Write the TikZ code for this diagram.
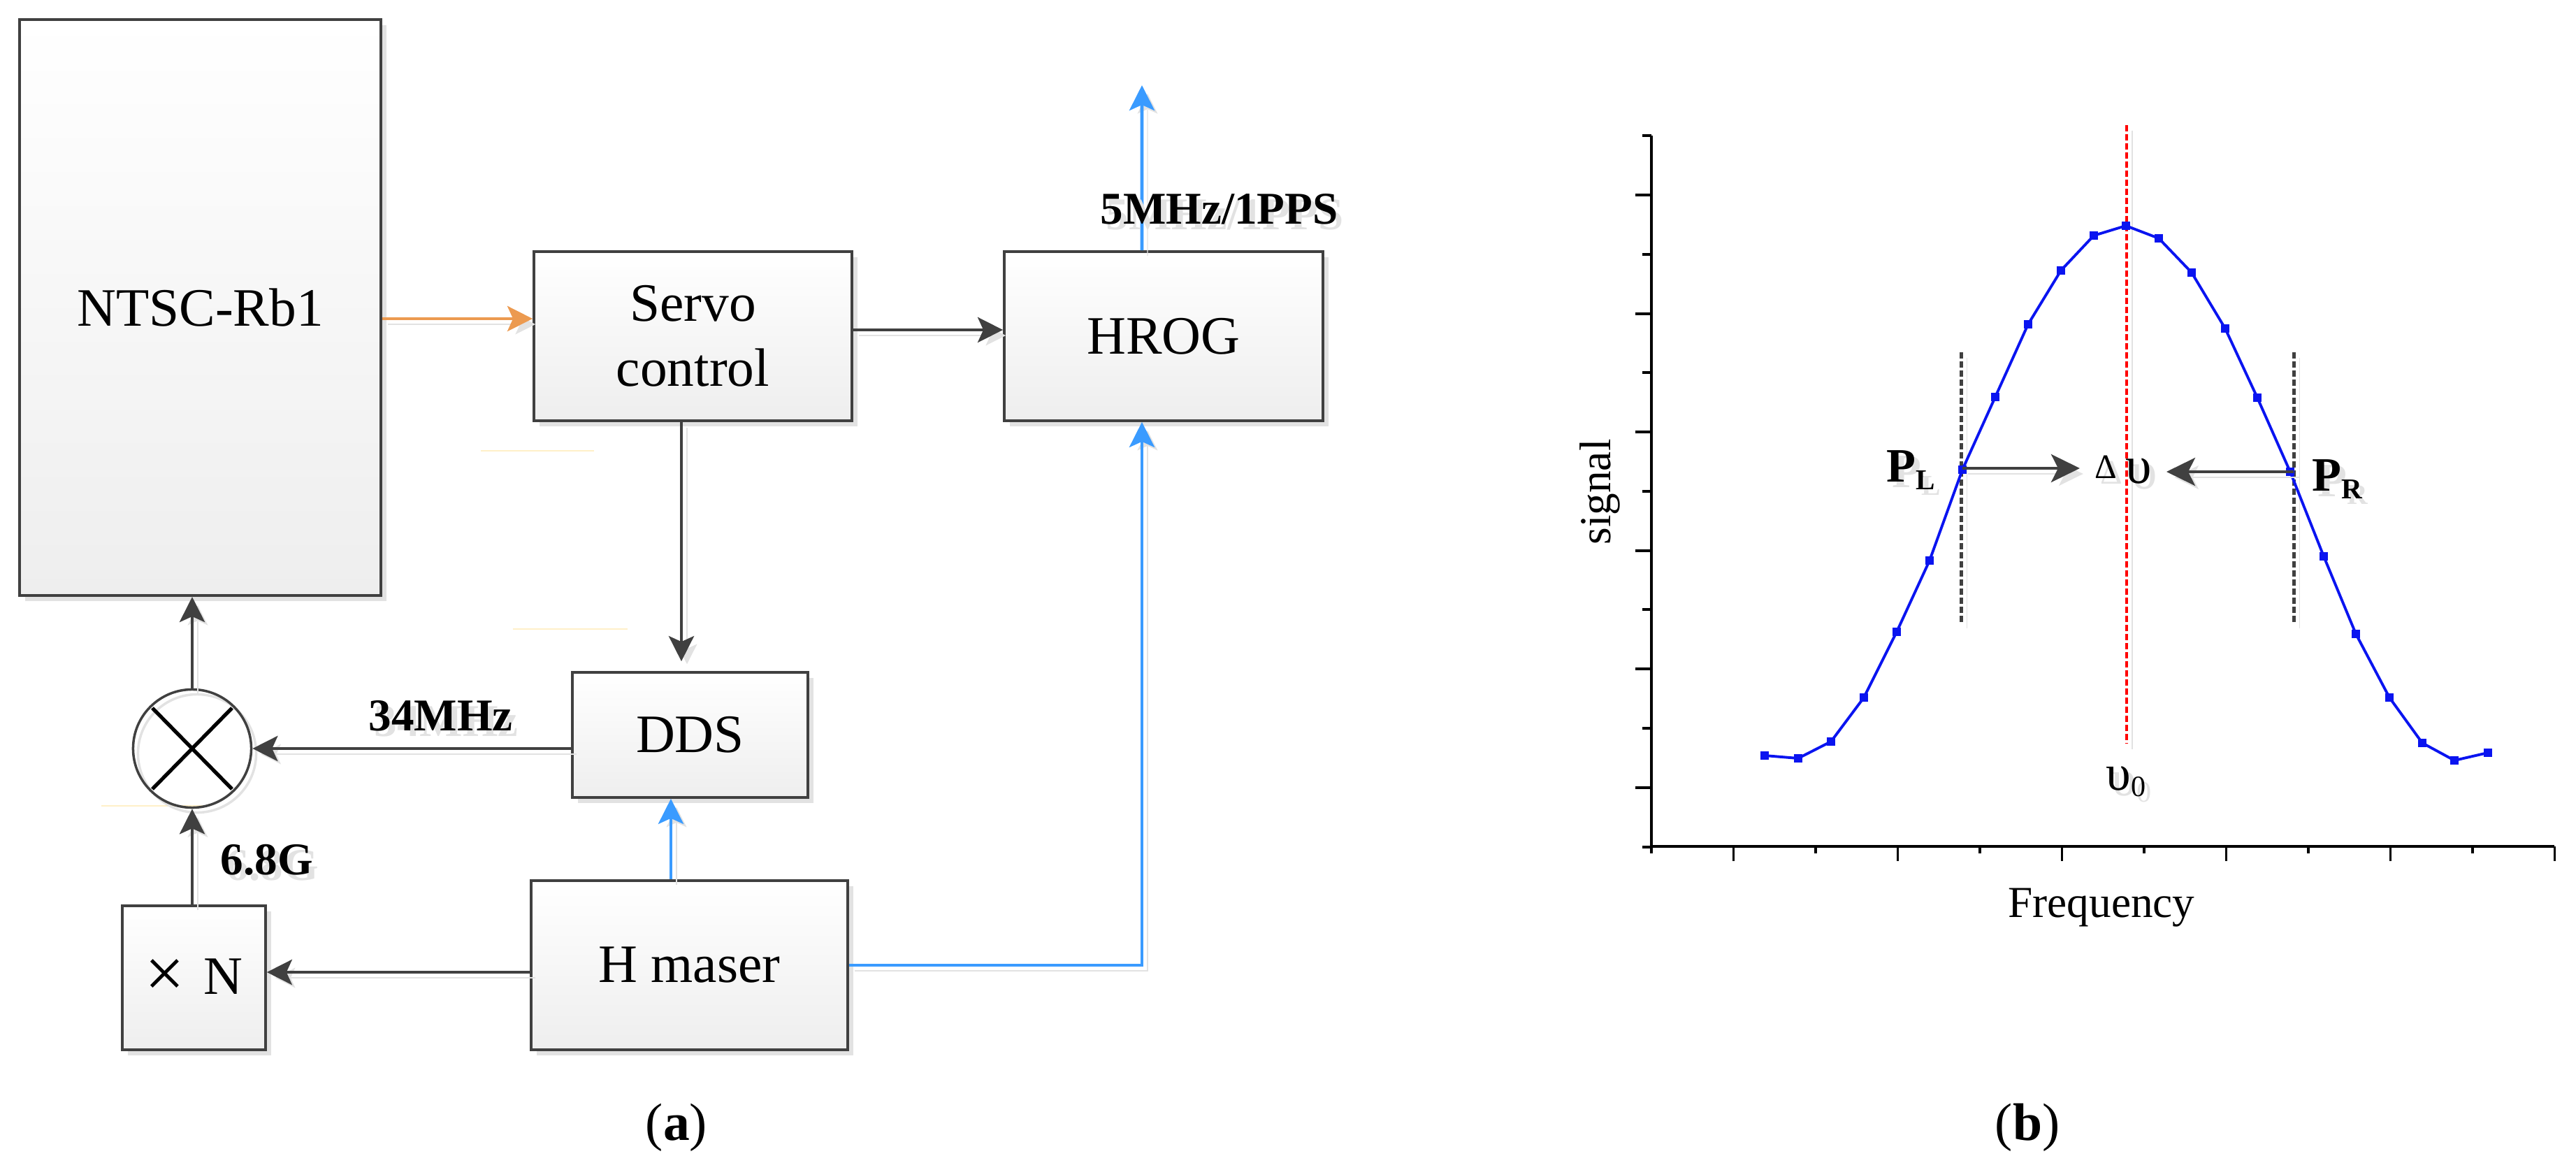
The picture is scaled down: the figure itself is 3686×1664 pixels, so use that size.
\documentclass[tikz,border=0pt]{standalone}
\usepackage{fontspec}
\setmainfont{Liberation Serif}
\usetikzlibrary{arrows.meta,shadows,calc,plotmarks}
\definecolor{dg}{HTML}{404040}
\definecolor{org}{HTML}{EC9A50}
\definecolor{blu}{HTML}{3A9BFF}
\definecolor{cblue}{HTML}{0A14F0}
\definecolor{shd}{HTML}{E2E2E2}
\definecolor{ylw}{HTML}{FFF0C8}
\definecolor{boxbot}{HTML}{EEEEEE}
\newcommand\shlabel[5]{%
  \node[anchor=#3, inner sep=0pt, text=shd, font=#4] (#1s) at ($#2+(8,8)$) {#5};
  \node[anchor=#3, inner sep=0pt, font=#4] (#1) at #2 {#5};}
\begin{document}
\begin{tikzpicture}[x=0.01cm, y=-0.01cm,
  blk/.style={draw=dg, line width=1pt, top color=white, bottom color=boxbot,
    drop shadow={shadow xshift=0.08cm, shadow yshift=-0.08cm, fill=shd, opacity=1},
    font=\fontsize{22}{26.5}\selectfont, align=center, inner sep=0pt},
  tip/.style={-{Stealth[length=0.36cm,width=0.36cm,inset=0.08cm]}},
  lsh/.style={preaction={draw=shd, transform canvas={xshift=0.08cm,yshift=-0.08cm}}},
  garr/.style={draw=dg, line width=1.4pt, tip, lsh},
  barr/.style={draw=blu, line width=1.4pt, tip, lsh},
  oarr/.style={draw=org, line width=1.4pt, tip, lsh},
  dsh/.style={line width=1.3pt, dash pattern=on 0.09cm off 0.04cm, lsh},
  ctip/.style={-{Stealth[length=0.41cm,width=0.40cm,inset=0.1cm]}},
]
\useasboundingbox (0,0) rectangle (3686,1664);
% faint lines
\draw[ylw, line width=0.6pt] (688,645) -- (850,645);
\draw[ylw, line width=0.6pt] (734,900) -- (898,900);
\draw[ylw, line width=0.6pt] (145,1153) -- (290,1153);
% boxes
\node[blk, minimum width=5.17cm, minimum height=8.24cm] (ntsc) at (286.5,440) {NTSC-Rb1};
\node[blk, minimum width=4.55cm, minimum height=2.42cm] (servo) at (991.5,481) {Servo\\control};
\node[blk, minimum width=4.56cm, minimum height=2.42cm] (hrog) at (1665,481) {HROG};
\node[blk, minimum width=3.37cm, minimum height=1.79cm] (dds) at (987.5,1051.5) {DDS};
\node[blk, minimum width=4.53cm, minimum height=2.42cm] (hm) at (986.5,1381) {H maser};
\node[blk, minimum width=2.05cm, minimum height=2.06cm] (xn) at (277.5,1399) {\raisebox{-1pt}{\scalebox{1.3}{×}}\hspace{0.28cm}N};
\node[circle, draw=dg, line width=1pt, minimum size=1.69cm, inner sep=0pt,
  preaction={draw=shd, line width=1pt, transform canvas={xshift=0.07cm,yshift=-0.07cm}}] (mix) at (275,1071) {};
\draw[black, line width=1.5pt] ($(mix.center)+(-57,-58)$) -- ($(mix.center)+(57,58)$);
\draw[black, line width=1.5pt] ($(mix.center)+(57,-58)$) -- ($(mix.center)+(-57,58)$);
% helper coordinates
\coordinate (s1) at ([yshift=0.25cm]servo.west);
\coordinate (h1) at ([yshift=0.09cm]hrog.west);
\coordinate (h2) at ([xshift=-0.31cm]hrog.north);
\coordinate (h3) at ([xshift=-0.31cm]hrog.south);
\coordinate (out) at (1634,122);
\coordinate (d1) at ([xshift=-0.125cm]dds.north);
\coordinate (d2) at ([xshift=-0.275cm]dds.south);
\coordinate (x1) at ([yshift=-0.1cm]hm.west);
% connectors
\draw[oarr] (ntsc.east |- s1) -- (s1);
\draw[garr] (servo.east |- h1) -- (h1);
\draw[barr] (h2) -- (out);
\draw[garr, shorten >=0.14cm] (servo.south -| d1) -- (d1);
\draw[garr] (mix.east -| dds.west) -- (mix.east);
\draw[barr] (hm.north -| d2) -- (d2);
\draw[garr] (x1) -- (x1 -| xn.east);
\draw[garr] (xn.north -| mix.south) -- (mix.south);
\draw[garr] (mix.north) -- (mix.north |- ntsc.south);
\draw[barr] (hm.east) -| (h3);
% labels
\shlabel{l5}{(1574,321)}{base west}{\fontsize{18.5}{20}\selectfont\bfseries}{5MHz/1PPS}
\shlabel{l34}{(527,1045)}{base west}{\fontsize{18.5}{20}\selectfont\bfseries}{34MHz}
\shlabel{l68}{(315,1251)}{base west}{\fontsize{18.5}{20}\selectfont\bfseries}{6.8G}
\node[font=\fontsize{21.5}{22}\selectfont] (capa) at (968,1613) {(\textbf{a})};
% ---------- chart (b)
\draw[dg, dsh] (2806.5,504) -- (2806.5,891);
\draw[dg, dsh] (3282.5,504) -- (3282.5,891);
\draw[red, dsh] (3043,179) -- (3043,1064);
\draw[black, line width=1.1pt] (2363,194) -- (2363,1211) -- (3655,1211);
\foreach \k in {0,...,6} \draw[black, line width=1.1pt] (2363,194+169.6*\k) -- ++(-13,0);
\foreach \k in {0,...,5} \draw[black, line width=1.1pt] (2363,279+169.6*\k) -- ++(-23,0);
\foreach \k in {0,...,5} \draw[black, line width=1.1pt] (2363+235*\k,1211) -- ++(0,10);
\foreach \k in {0,...,5} \draw[black, line width=1.1pt] (2480.5+235*\k,1211) -- ++(0,21);
\node[rotate=90, anchor=base, font=\fontsize{18}{18}\selectfont] (ylab) at (2304,704) {signal};
\node[anchor=base, font=\fontsize{18}{18}\selectfont] (xlab) at (3007,1312) {Frequency};
\draw[cblue, line width=1.1pt, mark=square*, mark size=0.045cm, mark options={fill=cblue, draw=cblue}]
  plot coordinates {(2525,1081) (2573,1085) (2620,1061) (2667,998) (2714,904) (2761,802)
  (2808,672) (2855,568) (2902,464) (2949,387) (2996,337) (3042,323) (3089,341) (3136,390)
  (3184,470) (3230,569) (3277,675) (3325,796) (3371,907) (3419,998) (3466,1063) (3512,1088) (3560,1077)};
\coordinate (pl) at (2808,670);
\coordinate (dv1) at (2976,670);
\coordinate (pr) at (3282,675);
\coordinate (dv2) at (3100,675);
\draw[dg, line width=1.2pt, ctip, lsh] (pl) -- (dv1);
\draw[dg, line width=1.2pt, ctip, lsh] (pr) -- (dv2);
\shlabel{plab}{(2699,690)}{base west}{\fontsize{19.5}{20}\selectfont\bfseries}{P\raisebox{-2.9pt}{\fontsize{11.7}{12}\selectfont L}}
\shlabel{prlab}{(3308,703)}{base west}{\fontsize{19.5}{20}\selectfont\bfseries}{P\raisebox{-2.9pt}{\fontsize{11.7}{12}\selectfont R}}
\shlabel{dlab}{(2997,691.6)}{base west}{\fontsize{21.5}{22}\selectfont}{\raisebox{2pt}{\fontsize{14}{14}\selectfont Δ}\hspace{0.12cm}υ}
\shlabel{ulab}{(3013,1130)}{base west}{\fontsize{20.5}{21}\selectfont}{υ\raisebox{-2.6pt}{\fontsize{12}{12}\selectfont 0}}
\node[font=\fontsize{21.5}{22}\selectfont] (capb) at (2901,1613) {(\textbf{b})};
\end{tikzpicture}
\end{document}
